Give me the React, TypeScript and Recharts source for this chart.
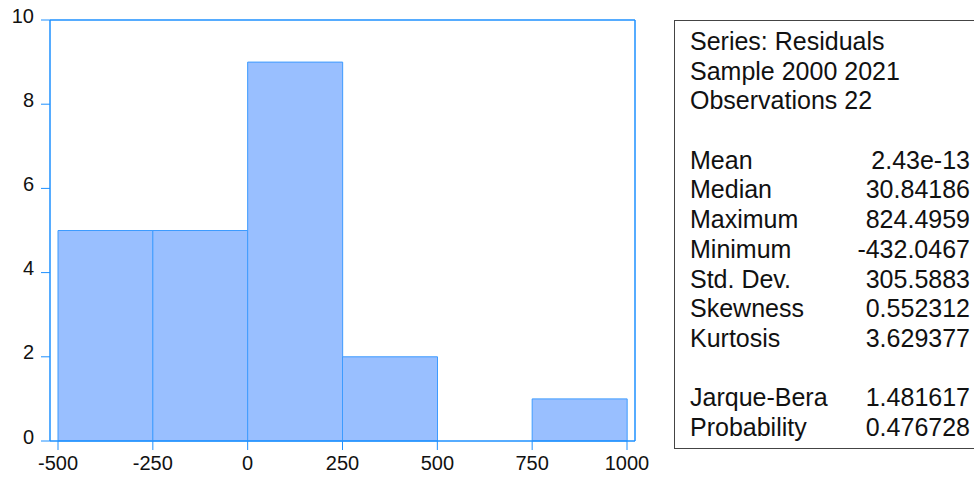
import React from 'react'
import { BarChart, Bar, XAxis, YAxis } from 'recharts'

// histogram bins of the residuals (bin width 250)
const binStarts = [-500, -250, 0, 250, 500, 750]
const binWidth = 250
const binCounts = [5, 5, 9, 2, 0, 1]

const xTicks = [-500, -250, 0, 250, 500, 750, 1000]
const yTicks = [0, 2, 4, 6, 8, 10]

// descriptive statistics block
const headerLines = ['Series: Residuals', 'Sample 2000 2021', 'Observations 22']
const statNames = ['Mean', 'Median', 'Maximum', 'Minimum', 'Std. Dev.', 'Skewness', 'Kurtosis']
const statValues = ['2.43e-13', '30.84186', '824.4959', '-432.0467', '305.5883', '0.552312', '3.629377']
const testNames = ['Jarque-Bera', 'Probability']
const testValues = ['1.481617', '0.476728']

const data = binStarts.map((start, i) => ({
  bin: `${start} – ${start + binWidth}`,
  mid: start + binWidth / 2,
  count: binCounts[i],
}))

const AXIS_BLUE = '#1E90FF'
const FONT = '"Liberation Sans", Arial, sans-serif'

const XTick = (props: any) => {
  const { x, y, payload } = props
  return (
    <text x={x} y={y + 18} textAnchor="middle" fontFamily={FONT} fontSize={20} fill="#111">
      {payload.value}
    </text>
  )
}

const YTick = (props: any) => {
  const { x, y, payload } = props
  return (
    <text x={x - 5} y={y + 2.5} textAnchor="end" fontFamily={FONT} fontSize={20} fill="#111">
      {payload.value}
    </text>
  )
}

const ROW = 29.7

function StatRow({ name, value }: { name: string; value?: string }) {
  return (
    <div style={{ height: ROW, lineHeight: `${ROW}px`, display: 'flex', justifyContent: 'space-between' }}>
      <span>{name}</span>
      <span>{value ?? ''}</span>
    </div>
  )
}

function StatsBox() {
  return (
    <div
      style={{
        position: 'absolute',
        left: 674,
        top: 20,
        width: 300,
        height: 429,
        boxSizing: 'border-box',
        border: '1.5px solid #444',
        borderRight: 'none',
        paddingTop: 6,
        paddingLeft: 15,
        paddingRight: 4,
        fontFamily: FONT,
        fontSize: 25,
        color: '#111',
        whiteSpace: 'nowrap',
      }}
    >
      {headerLines.map((t) => (
        <StatRow key={t} name={t} />
      ))}
      <StatRow name="" />
      {statNames.map((n, i) => (
        <StatRow key={n} name={n} value={statValues[i]} />
      ))}
      <StatRow name="" />
      {testNames.map((n, i) => (
        <StatRow key={n} name={n} value={testValues[i]} />
      ))}
    </div>
  )
}

export default function App() {
  return (
    <div style={{ position: 'relative', width: 974, height: 477, background: '#fff', overflow: 'hidden' }}>
      <style>{'body{margin:0;overflow:hidden}'}</style>
      <BarChart
        width={650}
        height={477}
        data={data}
        margin={{ top: 19, right: 14, bottom: 0, left: 0 }}
        barCategoryGap={0}
        barGap={0}
      >
        <XAxis xAxisId="bins" dataKey="bin" type="category" hide height={0} padding={{ left: 8, right: 8 }} />
        <XAxis
          xAxisId="value"
          dataKey="mid"
          type="number"
          domain={[-500, 1000]}
          ticks={xTicks}
          padding={{ left: 8, right: 8 }}
          height={36}
          tickSize={9}
          axisLine={{ stroke: AXIS_BLUE, strokeWidth: 1.5 }}
          tickLine={{ stroke: AXIS_BLUE }}
          tick={<XTick />}
          interval={0}
          allowDataOverflow
        />
        <XAxis
          xAxisId="top"
          dataKey="mid"
          orientation="top"
          type="number"
          domain={[-500, 1000]}
          height={1}
          tick={false}
          tickLine={false}
          axisLine={{ stroke: AXIS_BLUE, strokeWidth: 1.5 }}
          allowDataOverflow
        />
        <YAxis
          yAxisId="count"
          domain={[0, 10]}
          ticks={yTicks}
          width={50}
          tickSize={9}
          axisLine={{ stroke: AXIS_BLUE, strokeWidth: 1.5 }}
          tickLine={{ stroke: AXIS_BLUE }}
          tick={<YTick />}
          interval={0}
        />
        <YAxis
          yAxisId="right"
          orientation="right"
          domain={[0, 10]}
          width={1}
          tick={false}
          tickLine={false}
          axisLine={{ stroke: AXIS_BLUE, strokeWidth: 1.5 }}
        />
        <Bar
          xAxisId="bins"
          yAxisId="count"
          dataKey="count"
          fill="#99BFFF"
          stroke="#3D9BFF"
          strokeWidth={1}
          isAnimationActive={false}
        />
      </BarChart>
      <StatsBox />
    </div>
  )
}
